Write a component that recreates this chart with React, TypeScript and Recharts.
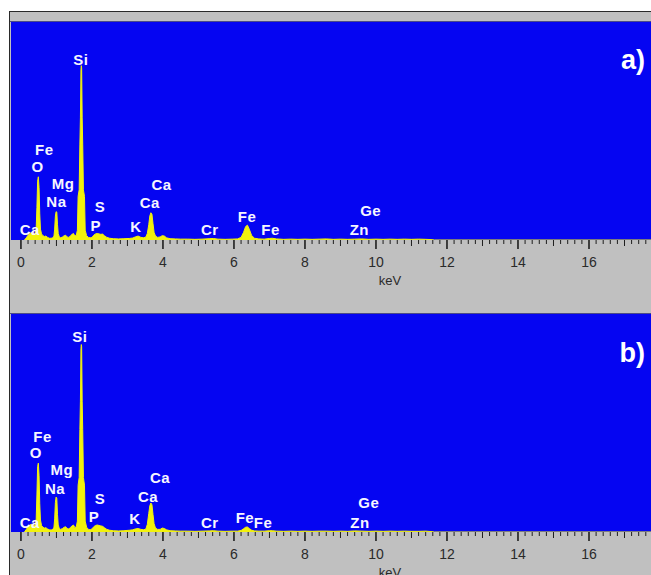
import React from 'react';
import { ComposedChart, Area, XAxis, YAxis, CartesianGrid, ReferenceDot } from 'recharts';

// energy channels (keV), denser around the peaks
const energy = [
  0.1, 0.15, 0.2, 0.25, 0.3, 0.35, 0.4, 0.43, 0.45, 0.47,
  0.49, 0.51, 0.53, 0.55, 0.58, 0.62, 0.66, 0.7, 0.75, 0.8,
  0.85, 0.9, 0.93, 0.95, 0.97, 0.99, 1.01, 1.03, 1.05, 1.08,
  1.12, 1.17, 1.22, 1.26, 1.3, 1.35, 1.4, 1.44, 1.48, 1.52,
  1.56, 1.59, 1.61, 1.64, 1.66, 1.675, 1.69, 1.7, 1.71, 1.725,
  1.74, 1.76, 1.79, 1.81, 1.85, 1.9, 1.95, 2.0, 2.05, 2.1,
  2.15, 2.2, 2.25, 2.3, 2.35, 2.42, 2.5, 2.6, 2.75, 2.9,
  3.05, 3.15, 3.22, 3.3, 3.38, 3.46, 3.52, 3.56, 3.6, 3.63,
  3.66, 3.69, 3.72, 3.75, 3.79, 3.85, 3.92, 3.98, 4.04, 4.1,
  4.2, 4.35, 4.5, 4.7, 4.9, 5.1, 5.3, 5.42, 5.55, 5.75,
  5.95, 6.1, 6.2, 6.27, 6.33, 6.38, 6.43, 6.5, 6.58, 6.7,
  6.85, 7.0, 7.08, 7.2, 7.4, 7.6, 7.8, 8.0, 8.2, 8.4,
  8.6, 8.8, 9.0, 9.2, 9.4, 9.6, 9.8, 10.0, 10.2, 10.4,
  10.6, 10.8, 11.0, 11.2, 11.4, 11.55, 11.65, 21.0,
];

// counts, spectrum a)
const countsA = [
  0, 10, 22, 30, 34, 26, 30, 55, 150, 270,
  290, 240, 120, 50, 28, 20, 16, 18, 12, 8,
  8, 10, 18, 50, 110, 130, 128, 70, 30, 14,
  10, 14, 20, 22, 14, 12, 20, 26, 30, 18,
  22, 45, 200, 230, 440, 560, 780, 800, 790, 560,
  440, 230, 200, 45, 20, 12, 10, 12, 22, 28,
  30, 28, 26, 27, 20, 12, 8, 6, 5, 6,
  7, 9, 14, 18, 12, 10, 14, 30, 70, 110,
  125, 118, 75, 35, 18, 12, 14, 20, 18, 10,
  6, 5, 4, 4, 3, 4, 6, 7, 4, 3,
  4, 5, 12, 35, 62, 68, 50, 20, 8, 5,
  4, 7, 8, 5, 3, 4, 3, 4, 3, 4,
  5, 3, 4, 3, 4, 5, 3, 4, 3, 4,
  3, 4, 3, 4, 3, 2, 0, 0,
];

// counts, spectrum b)
const countsB = [
  0, 12, 24, 32, 35, 28, 32, 60, 170, 300,
  316, 260, 130, 55, 30, 22, 18, 20, 14, 10,
  9, 12, 22, 60, 135, 160, 155, 80, 32, 16,
  12, 16, 22, 24, 16, 14, 22, 28, 32, 20,
  24, 50, 215, 250, 470, 600, 840, 860, 850, 600,
  470, 250, 215, 50, 22, 12, 10, 14, 24, 30,
  32, 30, 28, 26, 20, 12, 8, 6, 5, 6,
  8, 10, 14, 16, 12, 10, 14, 35, 85, 120,
  133, 125, 80, 38, 18, 12, 12, 18, 16, 10,
  6, 5, 4, 4, 3, 4, 5, 6, 4, 3,
  4, 4, 7, 15, 22, 23, 16, 8, 5, 4,
  4, 6, 6, 4, 3, 4, 3, 4, 3, 4,
  4, 3, 4, 3, 5, 4, 3, 4, 3, 4,
  3, 4, 3, 3, 4, 2, 0, 0,
];

// element markers: name, position (keV) and height (counts) in each panel
const elementNames = ['Si', 'Fe', 'O', 'Mg', 'Na', 'S', 'P', 'K', 'Ca', 'Ca', 'Cr', 'Fe', 'Fe', 'Ca', 'Ge', 'Zn'];
const markerKevA = [1.69, 0.66, 0.47, 1.19, 1.0, 2.23, 2.11, 3.24, 3.96, 3.63, 5.32, 6.37, 7.03, 0.25, 9.85, 9.53];
const markerHeightA = [829, 413, 336, 260, 176, 153, 66, 61, 252, 171, 49, 107, 49, 49, 135, 49];
const markerKevB = [1.66, 0.61, 0.42, 1.15, 0.96, 2.23, 2.06, 3.21, 3.92, 3.58, 5.32, 6.31, 6.82, 0.25, 9.8, 9.55];
const markerHeightB = [895, 437, 362, 284, 197, 151, 69, 60, 248, 161, 41, 64, 41, 41, 133, 41];

const kevLabels = [0, 2, 4, 6, 8, 10, 12, 14, 16, 18, 20];
const minorTicks = Array.from({ length: 106 }, (_, i) => Math.round(i * 2) / 10);

const rows = energy.map((e, i) => ({ e, a: countsA[i], b: countsB[i] }));

const BLUE = '#0505f2';
const YELLOW = '#f2f20c';
const GRAY = '#c0c0c0';
const FONT = '"Liberation Sans", Arial, sans-serif';

function KevTick({ x, y, payload }: any) {
  const v = payload.value;
  const major = kevLabels.includes(v);
  const mid = !major && Math.abs(v - Math.round(v)) < 1e-6;
  const len = major ? 9 : mid ? 6 : 4;
  return (
    <g>
      <line x1={x} x2={x} y1={y} y2={y + len} stroke="#1e1e1e" strokeWidth={major ? 1.6 : 1} />
      {major && (
        <text x={x} y={y + 27} textAnchor="middle" fontSize={14} fontFamily={FONT} fill="#2a2a2a">
          {v}
        </text>
      )}
    </g>
  );
}

function UnitLabel({ viewBox }: any) {
  if (!viewBox) return null;
  return (
    <text x={viewBox.x + viewBox.width / 2} y={viewBox.y + 45} textAnchor="middle" fontSize={13} fontFamily={FONT} fill="#2a2a2a">
      keV
    </text>
  );
}

function Spectrum({ dataKey, kev, heights }: { dataKey: string; kev: number[]; heights: number[] }) {
  return (
    <ComposedChart width={769} height={300} data={rows} margin={{ top: 22, right: 0, left: 11, bottom: 0 }}>
      <CartesianGrid fill={BLUE} stroke="none" horizontal={false} vertical={false} />
      <XAxis
        dataKey="e"
        type="number"
        domain={[-0.28, 21.07]}
        allowDataOverflow
        ticks={minorTicks}
        interval={0}
        tick={<KevTick />}
        tickLine={false}
        axisLine={false}
        tickSize={0}
        tickMargin={0}
        height={60}
        label={<UnitLabel />}
      />
      <YAxis hide domain={[0, 1000]} allowDataOverflow />
      {elementNames.map((name, i) => (
        <ReferenceDot
          key={dataKey + i}
          x={kev[i]}
          y={heights[i]}
          r={0}
          stroke="none"
          fill="none"
          label={{ value: name, position: 'center', fill: '#f6f6ff', fontSize: 15, fontWeight: 700, fontFamily: FONT, letterSpacing: 0.5 }}
        />
      ))}
      <Area
        type="linear"
        dataKey={dataKey}
        stroke={YELLOW}
        fill={YELLOW}
        fillOpacity={1}
        strokeWidth={1}
        dot={false}
        activeDot={false}
        isAnimationActive={false}
      />
    </ComposedChart>
  );
}

const panelTag: React.CSSProperties = {
  position: 'absolute',
  right: 6,
  color: '#ffffff',
  fontFamily: FONT,
  fontWeight: 700,
  fontSize: 27,
  lineHeight: '30px',
};

export default function App() {
  return (
    <div style={{ position: 'absolute', left: 0, top: 0, width: 651, height: 575, overflow: 'hidden', background: '#fff' }}>
      <div
        style={{
          position: 'absolute',
          left: 9,
          top: 11,
          width: 650,
          height: 570,
          background: GRAY,
          borderTop: '1px solid #2a2a2a',
          borderLeft: '1px solid #2a2a2a',
        }}
      />
      <div style={{ position: 'absolute', left: 0, top: 0 }}>
        <Spectrum dataKey="a" kev={markerKevA} heights={markerHeightA} />
      </div>
      <div style={{ position: 'absolute', left: 0, top: 292 }}>
        <Spectrum dataKey="b" kev={markerKevB} heights={markerHeightB} />
      </div>
      <div style={{ position: 'absolute', left: 10, top: 21, width: 641, height: 1, background: '#4c4c86' }} />
      <div style={{ position: 'absolute', left: 10, top: 313, width: 641, height: 1, background: '#4c4c86' }} />
      <div style={{ ...panelTag, top: 45 }}>a)</div>
      <div style={{ ...panelTag, top: 338 }}>b)</div>
    </div>
  );
}
